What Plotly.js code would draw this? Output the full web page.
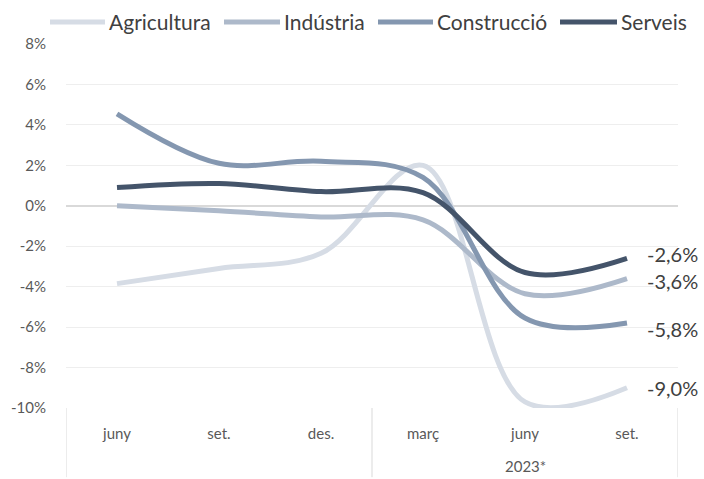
<!DOCTYPE html>
<html>
<head>
<meta charset="utf-8">
<script src="https://cdn.plot.ly/plotly-3.0.1.min.js"></script>
<style>
  html, body { margin: 0; padding: 0; background: #fff; }
  #chart { width: 704px; height: 479px; }
</style>
</head>
<body>
<div id="chart"></div>
<script>
// mesos (2022: juny-des., 2023*: març-set.)
var months = ['juny', 'set.', 'des.', 'març', 'juny', 'set.'];
var xIdx = [0, 1, 2, 3, 4, 5];

var agricultura  = [-3.85, -3.1, -2.35, 2.0, -9.7, -9.0];
var industria    = [0.0, -0.25, -0.55, -0.7, -4.35, -3.6];
var construccio  = [4.55, 2.1, 2.2, 1.4, -5.55, -5.8];
var serveis      = [0.9, 1.1, 0.7, 0.65, -3.3, -2.6];

var seriesNames = ['Agricultura', 'Indústria', 'Construcció', 'Serveis'];
var endLabels = ['-9,0%', '-3,6%', '-5,8%', '-2,6%'];
var yTickVals = [-10, -8, -6, -4, -2, 0, 2, 4, 6, 8];
var yTickText = ['-10%', '-8%', '-6%', '-4%', '-2%', '0%', '2%', '4%', '6%', '8%'];

var colors = ['#d6dce5', '#adb9ca', '#8497b0', '#44546a'];
var allValues = [agricultura, industria, construccio, serveis];

var data = allValues.map(function (vals, i) {
  return {
    x: xIdx,
    y: vals,
    name: seriesNames[i],
    type: 'scatter',
    mode: 'lines',
    line: { color: colors[i], width: 5, shape: 'spline', smoothing: 1 },
    showlegend: false,
    hoverinfo: 'skip'
  };
});

var font = 'Lato, "Open Sans", sans-serif';

// plot area in px: left 66, right 678, top 44, bottom 408
function px2x(px) { return (px - 66) / 612; }
function py2y(py) { return (408 - py) / 364; }

// etiquetes finals
var labelShift = [0, -2, -6, 4];
var annotations = allValues.map(function (vals, i) {
  return {
    x: 5, y: vals[5], xref: 'x', yref: 'y',
    text: endLabels[i], showarrow: false,
    xanchor: 'left', yanchor: 'middle', xshift: 18, yshift: labelShift[i],
    font: { family: font, size: 20, color: '#404040' }
  };
});
annotations.push({
  x: 4, y: -0.159, xref: 'x', yref: 'paper',
  text: '2023*', showarrow: false, xanchor: 'center', yanchor: 'middle',
  font: { family: font, size: 15, color: '#595959' }
});

// separadors de l'eix X
var shapes = [-0.5, 2.5, 5.5].map(function (xv) {
  return {
    type: 'line', xref: 'x', yref: 'paper',
    x0: xv, x1: xv, y0: 0, y1: -0.19,
    line: { color: '#d9d9d9', width: 1 }
  };
});

// llegenda
var legendLineStart = [50, 224, 378, 560];
var legendLineEnd = [105, 280, 433, 617];
var legendY = py2y(22);
seriesNames.forEach(function (name, i) {
  shapes.push({
    type: 'line', xref: 'paper', yref: 'paper',
    x0: px2x(legendLineStart[i]), x1: px2x(legendLineEnd[i]),
    y0: legendY, y1: legendY,
    line: { color: colors[i], width: 5 }
  });
  annotations.push({
    x: px2x(legendLineEnd[i] + 2), y: py2y(21), xref: 'paper', yref: 'paper',
    text: name, showarrow: false, xanchor: 'left', yanchor: 'middle',
    font: { family: font, size: 21, color: '#404040' }
  });
});

var layout = {
  width: 704,
  height: 479,
  margin: { l: 66, r: 26, t: 44, b: 71, autoexpand: false },
  paper_bgcolor: '#ffffff',
  plot_bgcolor: '#ffffff',
  font: { family: font, color: '#595959' },
  showlegend: false,
  xaxis: {
    range: [-0.5, 5.5],
    tickvals: xIdx,
    ticktext: months,
    ticks: 'outside',
    ticklen: 12,
    tickcolor: 'rgba(0,0,0,0)',
    showgrid: false,
    zeroline: false,
    showline: false,
    tickfont: { family: font, size: 15, color: '#595959' },
    fixedrange: true
  },
  yaxis: {
    range: [-10, 8],
    tickvals: yTickVals,
    ticktext: yTickText,
    showgrid: true,
    gridcolor: '#eeeeee',
    gridwidth: 1,
    zeroline: true,
    zerolinecolor: '#d9d9d9',
    zerolinewidth: 1.5,
    showline: false,
    ticks: 'outside',
    ticklen: 16,
    tickcolor: 'rgba(0,0,0,0)',
    tickfont: { family: font, size: 15, color: '#595959' },
    fixedrange: true
  },
  annotations: annotations,
  shapes: shapes
};

Plotly.newPlot('chart', data, layout, { displayModeBar: false, staticPlot: true });
</script>
</body>
</html>
